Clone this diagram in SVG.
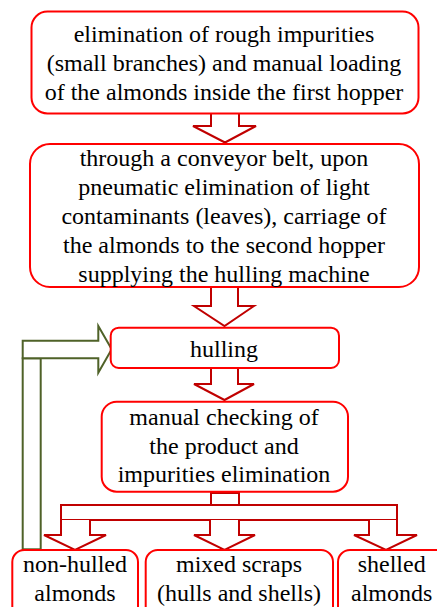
<svg xmlns="http://www.w3.org/2000/svg" width="437" height="607" viewBox="0 0 437 607">
<style>
.box{fill:#fff;stroke:#ff0000;stroke-width:2}
.arr{fill:#fff;stroke:#c00000;stroke-width:2;stroke-linejoin:miter}
.garr{fill:#fff;stroke:#4f6228;stroke-width:2}
text{font-family:"Liberation Serif","Times New Roman",serif;font-size:24px;fill:#000;text-anchor:middle}
</style>
<rect width="437" height="607" fill="#fff"/>
<g id="connectors">
<path class="arr" d="M211,113.5 V126 H193 L225,142.5 L256,126 H239 V113.5"/>
<path class="arr" d="M211,287 V306 H194 L224.5,326 L254,306 H238 V287"/>
<path class="arr" d="M211,368 V384 H194 L224.5,400 L254,384 H238 V368"/>
<rect class="arr" x="211" y="493" width="28" height="12"/>
<rect class="arr" x="61" y="505" width="336" height="15"/>
<path class="arr" d="M61,520 V535 H44 L75,550 L106,535 H90 V520"/>
<path class="arr" d="M210,520 V535 H194 L224.5,550 L255,535 H239 V520"/>
<path class="arr" d="M369,520 V535 H354 L386,550 L417,535 H397 V520"/>
<rect class="garr" x="22.7" y="358.3" width="18" height="191"/>
<path class="garr" d="M22.7,340.7 H98.3 V326 L111.7,349.3 L98.3,372.7 V358.3 H22.7 Z"/>
</g>
<g id="n1">
<rect class="box" x="31.5" y="11.5" width="387" height="102" rx="16"/>
<text x="224" y="42">elimination of rough impurities</text>
<text x="224" y="71">(small branches) and manual loading</text>
<text x="224" y="100">of the almonds inside the first hopper</text>
</g>
<g id="n2">
<rect class="box" x="30" y="144" width="389" height="143" rx="20"/>
<text x="224" y="166">through a conveyor belt, upon</text>
<text x="224" y="195">pneumatic elimination of light</text>
<text x="224" y="224">contaminants (leaves), carriage of</text>
<text x="224" y="253">the almonds to the second hopper</text>
<text x="224" y="282">supplying the hulling machine</text>
</g>
<g id="n3">
<rect class="box" x="110.7" y="327.7" width="228.3" height="40.3" rx="8"/>
<text x="224" y="357">hulling</text>
</g>
<g id="n4">
<rect class="box" x="101.7" y="401.7" width="246.3" height="90" rx="15"/>
<text x="224" y="425">manual checking of</text>
<text x="224" y="453.5">the product and</text>
<text x="224" y="482">impurities elimination</text>
</g>
<g id="n5">
<rect class="box" x="12.3" y="550" width="125.7" height="70" rx="12"/>
<text x="75" y="572">non-hulled</text>
<text x="75" y="601">almonds</text>
</g>
<g id="n6">
<rect class="box" x="145.7" y="550" width="187.3" height="70" rx="12"/>
<text x="239" y="572">mixed scraps</text>
<text x="239" y="601">(hulls and shells)</text>
</g>
<g id="n7">
<rect class="box" x="338" y="550" width="110" height="70" rx="12"/>
<text x="391.7" y="572">shelled</text>
<text x="391.7" y="601">almonds</text>
</g>
</svg>
